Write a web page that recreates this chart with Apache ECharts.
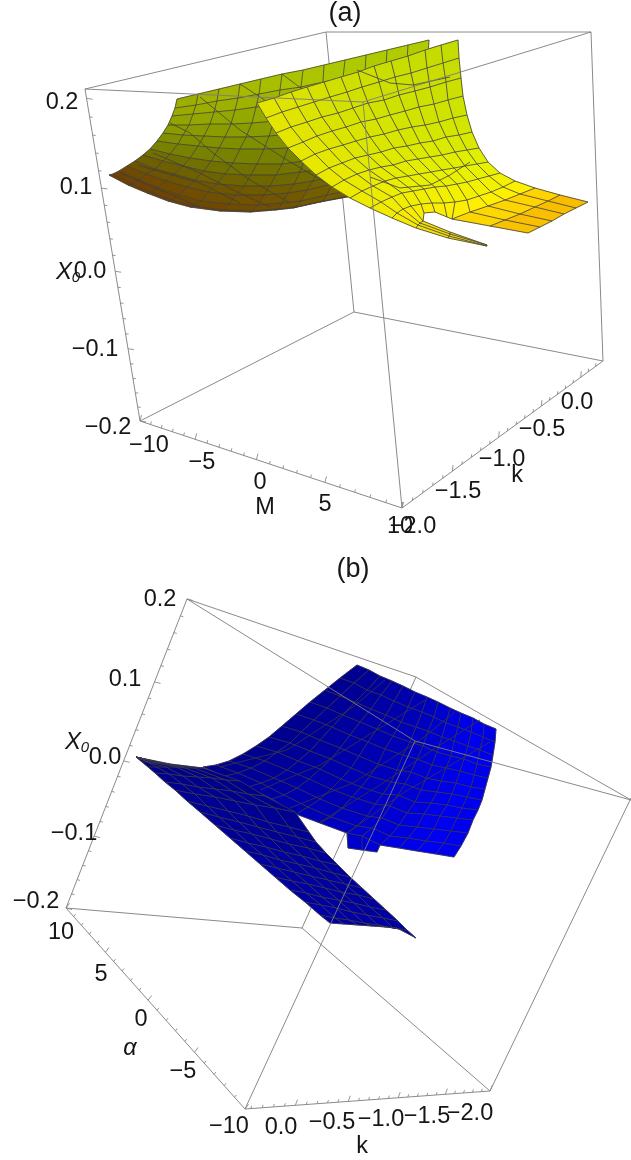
<!DOCTYPE html>
<html><head><meta charset="utf-8">
<style>html,body{margin:0;padding:0;background:#fff}#c{width:631px;height:1160px}</style>
<script src="https://cdn.jsdelivr.net/npm/echarts@6/dist/echarts.min.js"></script>
</head><body><div id="c"></div>
<script>
// Surface nodes, on the page's projected plane (x, y pairs per mesh row).
const sheetOlive = [
[177,99,198,94,219,89,240,84,261,79,282,74,303,70,324,65,345,60,366,55,387,50,408,45,429,40],
[175,108,196,105,217,101,238,98,259,94,280,90,301,87,323,82,343,78,365,73,386,68,407,62,428,57],
[172,116,193,114,214,112,235,110,256,107,278,104,299,101,321,97,341,93,363,87,384,82,405,77,426,71],
[168,125,189,125,210,124,231,124,252,123,274,121,296,118,318,114,338,110,360,105,382,100,403,94,424,88],
[163,133,183,135,204,136,225,137,246,137,269,136,292,134,314,130,334,127,356,121,379,116,400,110,421,103],
[157,141,178,144,198,146,219,148,240,149,264,149,288,148,310,145,330,141,353,136,375,131,397,125,418,117],
[150,149,170,154,190,158,211,161,233,163,257,164,282,164,304,161,324,158,348,152,371,147,393,141,414,132],
[143,155,163,161,183,166,204,171,225,174,251,175,276,175,300,172,319,170,343,164,367,159,389,152,410,144],
[135,161,155,169,174,174,195,180,217,184,244,186,270,186,294,184,313,181,337,176,362,171,384,164,406,155],
[127,166,146,174,166,181,187,187,208,192,236,195,264,195,288,193,307,190,332,184,357,179,380,173,402,163],
[119,171,139,180,158,188,179,195,201,201,229,204,258,205,282,203,301,201,327,195,353,190,376,183,398,173],
[113,174,132,184,151,192,172,200,194,206,224,210,253,211,278,209,296,207,323,201,349,196,372,189,394,179],
[109,175,128,185,147,193,168,201,190,207,220,211,250,212,275,210,293,208,320,202,347,197,370,190,392,180]];
const sheetYellow = [
[257,103,274,98,291,92,307,87,324,82,341,77,358,72,374,66,391,61,408,56,425,50,441,45,458,40],
[266,118,282,112,298,107,314,102,330,97,347,92,362,87,379,82,395,77,411,73,427,68,443,63,459,58],
[276,133,291,127,307,122,322,117,338,113,353,108,368,103,384,100,399,95,415,91,430,87,446,82,461,78],
[288,148,303,142,317,136,332,131,346,127,361,122,376,119,390,115,405,111,419,107,434,104,448,100,463,96],
[301,161,315,154,329,149,343,145,356,141,370,137,384,134,398,130,412,127,425,125,439,122,453,118,467,115],
[316,175,329,168,342,163,355,158,368,155,381,152,394,148,407,146,420,143,433,141,446,137,459,135,472,132],
[332,187,344,180,357,174,369,170,381,167,393,165,406,161,418,159,430,157,442,155,455,152,467,150,479,148],
[350,198,362,191,373,186,385,181,396,178,408,176,419,174,431,172,442,170,454,168,465,166,477,164,488,162],
[370,208,381,202,392,197,402,193,413,191,424,189,435,187,446,186,457,184,467,182,478,179,489,176,500,173],
[392,218,397,213,403,209,411,206,421,204,432,203,444,203,455,202,467,200,479,196,491,192,503,187,515,181],
[416,228,418,225,420,223,423,221,424,213,435,212,447,217,452,219,470,212,488,206,505,200,520,194,535,188],
[448,238,449,236,450,234,450,232,null,null,null,null,null,null,490,226,505,220,520,214,535,207,548,201,560,195],
[487,246,487,246,487,245,487,245,null,null,null,null,null,null,528,233,540,227,552,221,564,214,576,208,588,202]];
const sheetBlue = [
[357,665,369,670,380,676,392,681,403,686,415,692,427,697,438,702,450,708,461,713,473,718,484,724,496,729],
[340,678,354,683,367,690,381,695,394,701,408,707,422,712,434,717,446,723,458,727,471,732,483,737,495,742],
[325,690,340,696,355,702,371,709,386,715,401,722,416,727,428,731,442,737,454,741,468,746,480,750,493,755],
[310,702,327,708,343,715,360,722,377,729,393,736,410,742,423,746,437,752,451,756,464,759,477,764,491,767],
[296,714,314,720,332,727,350,735,368,742,385,749,403,755,417,759,432,765,446,768,460,771,474,775,488,778],
[282,726,301,732,320,740,340,748,359,756,378,764,397,770,411,772,426,778,441,781,456,783,471,787,485,789],
[269,737,290,743,310,751,331,759,351,768,370,776,391,782,405,784,421,790,437,792,452,794,467,797,482,800],
[256,746,277,752,298,761,320,769,341,779,361,787,383,794,398,795,415,802,431,803,447,805,462,808,478,810],
[243,754,265,761,287,770,309,779,331,789,352,797,375,804,390,806,407,813,424,814,440,816,457,818,473,820],
[229,761,251,768,274,778,297,788,320,799,342,808,367,816,382,818,399,825,417,827,434,829,451,831,468,833],
[216,765,238,773,261,783,284,795,308,807,331,817,357,826,372,828,390,836,408,838,426,841,444,843,461,846],
[203,767,225,776,248,787,272,799,296,814,320,823,347,833,362,836,380,845,399,848,417,851,436,854,454,857],
[null,null,null,null,null,null,null,null,null,null,null,null,348,848,362,850,377,852,null,null,null,null,null,null,null,null]];
const sheetWing = [
[136,757,136,757,136,757,136,757,136,757,136,757,136,757],
[142,762,147,762,151,763,156,763,161,763,165,764,170,764],
[148,767,157,767,166,767,176,767,185,768,194,768,203,768],
[155,773,169,774,183,776,198,777,212,778,226,780,240,781],
[165,782,182,784,198,787,215,789,232,791,248,794,265,796],
[175,790,195,794,215,797,235,801,255,805,275,808,295,812],
[187,801,207,806,228,811,248,816,268,822,289,827,309,832],
[200,812,219,817,239,822,258,827,277,832,297,837,316,842],
[215,825,234,830,252,834,271,839,289,844,308,848,326,853],
[230,838,248,843,266,847,284,852,302,856,320,861,338,865],
[245,851,263,855,280,860,298,864,315,868,333,873,350,877],
[260,864,277,868,294,872,311,876,328,880,345,884,362,888],
[275,877,292,881,308,884,325,888,341,892,358,895,374,899],
[290,890,306,893,322,897,338,900,354,903,370,907,386,910],
[305,902,321,905,336,908,352,912,367,915,383,918,398,921],
[320,915,335,918,349,920,364,923,378,925,393,928,407,930],
[330,923,344,924,358,925,372,926,386,927,397,928,416,938]];

// Further mesh curves seen crossing each sheet
const crossOlive = [
[282,74,330,110,375,145,400,165],
[240,84,280,110,330,150,370,175],
[200,97,240,130,287,160,333,187],
[170,123,190,133,213,153,250,180,290,203],
[153,153,200,173,233,190,270,207],
[137,165,200,183,240,203],
[120,173,167,193,200,207]];
const crossYellow = [
[357,70,390,83,413,85,450,77],
[370,177,400,188,430,185,450,175,470,162]];
const crossBlue = [
[220,767,287,750,353,707,385,680],
[260,790,320,765,385,725,425,700],
[290,808,353,783,420,740,455,712],
[320,822,380,785,440,745,480,720],
[347,833,403,793,490,742]];

// Tick values of each axis
const tickValuesAZ = [-0.2,-0.18,-0.16,-0.14,-0.12,-0.1,-0.08,-0.06,-0.04,-0.02,0,0.02,0.04,0.06,0.08,0.1,0.12,0.14,0.16,0.18,0.2];
const tickValuesM = [-10,-9,-8,-7,-6,-5,-4,-3,-2,-1,0,1,2,3,4,5,6,7,8,9,10];
const tickValuesK = [-2,-1.9,-1.8,-1.7,-1.6,-1.5,-1.4,-1.3,-1.2,-1.1,-1,-0.9,-0.8,-0.7,-0.6,-0.5,-0.4,-0.3,-0.2,-0.1,0,0.1,0.2];
const tickValuesKb = [-2,-1.9,-1.8,-1.7,-1.6,-1.5,-1.4,-1.3,-1.2,-1.1,-1,-0.9,-0.8,-0.7,-0.6,-0.5,-0.4,-0.3,-0.2,-0.1,0,0.1,0.2,0.3,0.4];

// Tick label texts
const labelsAZ = ['0.2','0.1','0.0','\u22120.1','\u22120.2'];
const labelsAM = ['\u221210','\u22125','0','5','10'];
const labelsAK = ['\u22122.0','\u22121.5','\u22121.0','\u22120.5','0.0'];
const labelsBZ = ['0.2','0.1','0.0','\u22120.1','\u22120.2'];
const labelsBA = ['10','5','0','\u22125','\u221210'];
const labelsBK = ['0.0','\u22120.5','\u22121.0','\u22121.5','\u22122.0'];

// ---------- layout & style ----------
const FONT = '"Liberation Sans", Arial, sans-serif';
const placeAZ = [[62,103],[76,188],[90,272],[95,350],[108,428]];
const placeAM = [[149,446],[202,463],[260,483],[325,505],[400,527]];
const placeAK = [[413,527],[458,492],[502,460],[542,430],[577,403]];
const placeBZ = [[160,600],[125,680],[105,758],[74,834],[36,902]];
const placeBA = [[61,933],[101,975],[141,1020],[183,1072],[229,1127]];
const placeBK = [[281,1128],[332,1123],[381,1120],[427,1117],[470,1114]];
const texts = [];
function addLabels(list, place){list.forEach((t,i)=>texts.push({t,x:place[i][0],y:place[i][1],s:23.5}));}
addLabels(labelsAZ,placeAZ);addLabels(labelsAM,placeAM);addLabels(labelsAK,placeAK);
addLabels(labelsBZ,placeBZ);addLabels(labelsBA,placeBA);addLabels(labelsBK,placeBK);
texts.push({t:'(a)',x:345,y:14,s:27},{t:'(b)',x:353,y:570,s:27});
texts.push({t:'M',x:265,y:508,s:23.5},{t:'k',x:517,y:476,s:23.5},{t:'k',x:362,y:1147,s:23.5});
texts.push({t:'\u03b1',x:130,y:1048,s:23.5,it:1});
texts.push({t:'X',x:64,y:272,s:24,it:1},{t:'0',x:76,y:278,s:15,it:1});
texts.push({t:'X',x:73,y:742,s:24,it:1},{t:'0',x:85,y:748,s:15,it:1});

const frameBack = [
[85,89,326,32],[326,32,591,32],[326,32,354,312],[354,312,140,421],[354,312,603,361],
[140,421,402,508],[402,508,603,361],[85,89,140,421],[591,32,603,361],
[187,599,416,677],[416,677,631,800],[416,677,302,928],[302,928,66,908],[302,928,490,1091],
[66,908,245,1109],[245,1109,490,1091],[187,599,66,908],[490,1091,631,798]];
const frameFront = [
[85,89,363,102],[363,102,591,32],[363,102,402,508],
[187,599,415,741],[415,741,631,800],[415,741,245,1109]];

const axisDefs = [
 {v:tickValuesAZ,a:-0.2,b:0.21,p:[140,421],q:[85,89],r:1.16,maj:0.1,d:[1,0.15]},
 {v:tickValuesM,a:-10,b:10,p:[140,421],q:[402,508],r:1.25,maj:5,d:[0.25,-1]},
 {v:tickValuesK,a:-2,b:0.3,p:[402,508],q:[603,361],r:0.83,maj:0.5,d:[0.1,-1]},
 {v:tickValuesAZ,a:-0.2,b:0.2,p:[66,908],q:[187,599],r:1.1,maj:0.1,d:[1,0.25]},
 {v:tickValuesM,a:10,b:-10,p:[66,908],q:[245,1109],r:1.18,maj:5,d:[0.6,-0.8]},
 {v:tickValuesKb,a:0.45,b:-2,p:[245,1109],q:[490,1091],r:0.87,maj:0.5,d:[0.35,-0.95]}
];
const tickSegs=[];
axisDefs.forEach(A=>A.v.forEach(val=>{
  const t=(val-A.a)/(A.b-A.a), f=t/(t+(1-t)*A.r);
  const x=A.p[0]+(A.q[0]-A.p[0])*f, y=A.p[1]+(A.q[1]-A.p[1])*f;
  const m=Math.abs(val/A.maj-Math.round(val/A.maj))<1e-6, l=m?6:3;
  tickSegs.push([x,y,x+A.d[0]*l,y+A.d[1]*l]);
}));

const olivePal=['#b0cc00','#a4bd00','#97ae00','#8a9e00','#7f8f00','#778000','#716f00','#6e6000','#6e5300','#6f4a00','#704300','#703e00'];
const yellowPal=['#c5dc00','#c8de00','#cbe000','#cfe300','#d3e600','#d9ea00','#e0ee00','#e8f100','#f2f200','#fff000','#ffd400','#f9bd00'];
const bluePal=['#000090','#000096','#00009c','#0000a4','#0000ac','#0000b6','#0000c0','#0000cc','#0000d8','#0000e4','#0000ee','#0000e8'];
const wingPal=['#000080','#000084','#000088','#00008c','#000090','#000092','#000094','#000096','#000098','#00009a','#00009c','#00009e','#0000a0','#0000a2','#0000a4','#0000a0'];
function hex(c){return [1,3,5].map(k=>parseInt(c.substr(k,2),16));}
function mix(a,b,t){const A=hex(a),B=hex(b);return '#'+A.map((v,k)=>Math.round(v+(B[k]-v)*t).toString(16).padStart(2,'0')).join('');}
const surfaces=[
 {rows:sheetOlive,cross:crossOlive,line:'rgba(62,62,62,0.85)',col:(i,r,n)=>{const u=i/n;
    const c=mix(olivePal[r],'#7f9a00',0.55*u*u*(r>2?1:0));
    return r<6?mix(c,'#8c9000',(1-u)*(1-u)*0.5*(1-r/6)):c;}},
 {rows:sheetYellow,cross:crossYellow,line:'rgba(70,70,70,0.95)',col:(i,r,n)=>{const u=i/n,w=(1-u)*(1-u)*0.7;return mix(yellowPal[r],'#f0e800',w);}},
 {rows:sheetBlue,cross:crossBlue,line:'rgba(55,55,60,0.85)',col:(i,r,n)=>{const u=i/n;return mix(bluePal[i>11?11:i],'#0000ff',0.35*r/11*u);}},
 {rows:sheetWing,cross:[],line:'rgba(60,60,65,0.85)',col:(i,r,n)=>wingPal[r]}
];
function N(row,i){const a=row[i*2],b=row[i*2+1];return a===null||a===undefined?null:[a,b];}
surfaces.forEach(S=>{
  S.cells=[];S.lines=[];
  const n=S.rows[0].length/2-1;
  for(let r=0;r<S.rows.length-1;r++)for(let i=0;i<n;i++){
    const a=N(S.rows[r],i),b=N(S.rows[r],i+1),c=N(S.rows[r+1],i+1),d=N(S.rows[r+1],i);
    if(a&&b&&c&&d)S.cells.push({p:[a,b,c,d],c:S.col(i,r,n)});
  }
  const push=(seq)=>{let cur=[];seq.forEach(p=>{if(p)cur.push(p);else{if(cur.length>1)S.lines.push(cur);cur=[];}});if(cur.length>1)S.lines.push(cur);};
  S.rows.forEach(row=>{const s=[];for(let i=0;i<=n;i++)s.push(N(row,i));push(s);});
  for(let i=0;i<=n;i++)push(S.rows.map(row=>N(row,i)));
  S.cross.forEach(c=>{const s=[];for(let k=0;k<c.length/2;k++)s.push(N(c,k));push(s);});
});

function segSeries(name,segs,color,w,z){return {name,type:'custom',coordinateSystem:'cartesian2d',silent:true,z,clip:false,
  data:segs.map((s,k)=>[s[0],s[1],k]),
  renderItem:(p,api)=>{const s=segs[p.dataIndex],a=api.coord([s[0],s[1]]),b=api.coord([s[2],s[3]]);
    return {type:'line',shape:{x1:a[0],y1:a[1],x2:b[0],y2:b[1]},style:{stroke:color,lineWidth:w}};}};}
function cellSeries(S,z){return {type:'custom',coordinateSystem:'cartesian2d',silent:true,z,clip:false,
  data:S.cells.map(c=>[c.p[0][0],c.p[0][1]]),
  renderItem:(p,api)=>{const c=S.cells[p.dataIndex];
    return {type:'polygon',shape:{points:c.p.map(q=>api.coord(q))},style:{fill:c.c,stroke:c.c,lineWidth:0.6}};}};}
function meshSeries(S,z){return {type:'custom',coordinateSystem:'cartesian2d',silent:true,z,clip:false,
  data:S.lines.map(l=>[l[0][0],l[0][1]]),
  renderItem:(p,api)=>({type:'polyline',shape:{points:S.lines[p.dataIndex].map(q=>api.coord(q))},style:{fill:'none',stroke:S.line,lineWidth:0.9}})};}
const textSeries={type:'custom',coordinateSystem:'cartesian2d',silent:true,z:20,clip:false,
  data:texts.map(t=>[t.x,t.y]),
  renderItem:(p,api)=>{const t=texts[p.dataIndex],a=api.coord([t.x,t.y]);
    return {type:'text',x:a[0],y:a[1],style:{text:t.t,fill:'#161616',font:(t.it?'italic ':'')+t.s+'px '+FONT,textAlign:'center',textVerticalAlign:'middle'}};}};

const series=[segSeries('frameBack',frameBack,'#8a8a8a',1,1),segSeries('ticks',tickSegs,'#8a8a8a',0.9,1)];
surfaces.forEach((S,k)=>{series.push(cellSeries(S,2+k*2));series.push(meshSeries(S,3+k*2));});
series.push(segSeries('frameFront',frameFront,'rgba(125,125,125,0.9)',1,15));
series.push(textSeries);

const chart=echarts.init(document.getElementById('c'),null,{renderer:'canvas'});
chart.setOption({animation:false,backgroundColor:'#fff',
  grid:{left:0,right:0,top:0,bottom:0},
  xAxis:{type:'value',min:0,max:631,show:false},
  yAxis:{type:'value',min:0,max:1160,inverse:true,show:false},
  tooltip:{show:false},series});
</script></body></html>
